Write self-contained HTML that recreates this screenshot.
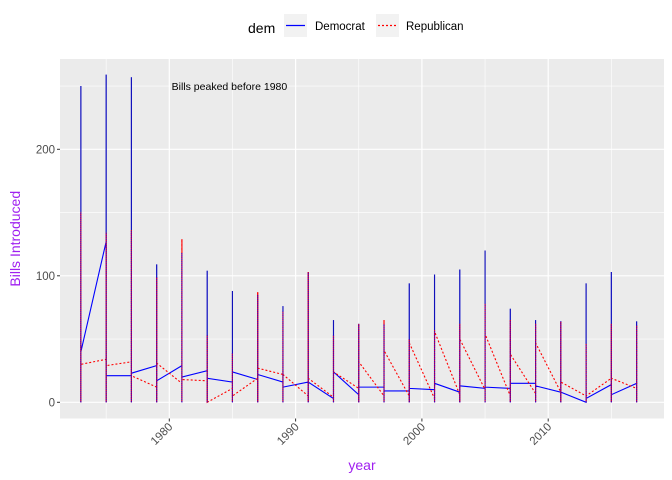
<!DOCTYPE html>
<html><head><meta charset="utf-8"><style>
body{margin:0;background:#fff}
svg{display:block;font-family:"Liberation Sans",Arial,sans-serif}
</style></head><body>
<svg id="c" width="672" height="480"></svg>
<script>
const years=[1973,1975,1977,1979,1981,1983,1985,1987,1989,1991,1993,1995,1997,1999,2001,2003,2005,2007,2009,2011,2013,2015,2017];
const demMax=[250,259,257,109,118,104,88,85,76,103,65,62,62,94,101,105,120,74,65,64,94,103,64];
const demIn=[40,127,21,29,29,25,16,18,16,16,3,6,12,9,10,8,11,11,15,8,0,14,15];
const demOut=[40,21,23,17,20,19,24,22,12,16,24,12,9,11,15,13,12,15,13,8,3,6,15];
const repMax=[150,134,136,99,129,53,39,87,72,103,53,62,65,50,57,62,78,65,62,64,46,62,61];
const repIn=[30,34,32,12,15,17,11,19,22,5,4,11,5,5,3,6,10,5,7,8,5,19,11];
const repOut=[30,29,21,31,18,0,5,27,22,19,24,32,41,47,56,50,54,38,47,16,5,19,11];
const xTicks=[1980,1990,2000,2010];
const yTicks=[0,100,200];

const NS="http://www.w3.org/2000/svg";
const svg=document.getElementById('c');
const L=60,R=664,T=59,B=418.5;
const xs=v=>169.3+(v-1980)*12.63;
const ys=v=>402.3-v*1.265;
function mk(tag,attrs,parent){const e=document.createElementNS(NS,tag);for(const k in attrs)e.setAttribute(k,attrs[k]);(parent||svg).appendChild(e);return e;}

const panel=mk('rect',{x:L,y:T,width:R-L,height:B-T,fill:'#ebebeb'});


const grid=mk('g',{});


[50,150,250].forEach(v=>mk('line',{x1:L,x2:R,y1:ys(v),y2:ys(v),stroke:'#fff','stroke-width':0.6},grid));
[1975,1985,1995,2005,2015].forEach(v=>mk('line',{x1:xs(v),x2:xs(v),y1:T,y2:B,stroke:'#fff','stroke-width':0.6},grid));
yTicks.forEach(v=>mk('line',{x1:L,x2:R,y1:ys(v),y2:ys(v),stroke:'#fff','stroke-width':1.2},grid));
xTicks.forEach(v=>mk('line',{x1:xs(v),x2:xs(v),y1:T,y2:B,stroke:'#fff','stroke-width':1.2},grid));

function series(mx,vin,vout,color,dash,name){
  const g=mk('g',{});
  
  
  let d='';
  years.forEach((y,i)=>{
    const x=xs(y);
    d+=(i?'L':'M')+x+','+ys(vin[i])+'L'+x+','+ys(0)+'L'+x+','+ys(mx[i])+'L'+x+','+ys(vout[i]);
  });
  const p=mk('path',{d:d,fill:'none',stroke:color,'stroke-width':1.1,'stroke-dasharray':dash||'none'},g);
  
  
}
series(demMax,demIn,demOut,'#0000ff',null,'democrat-series');
series(repMax,repIn,repOut,'#ff0000','2,2','republican-series');
const rv=mk('g',{});


years.forEach((y,i)=>{
  const x=xs(y);
  mk('line',{x1:x,x2:x,y1:ys(0),y2:ys(repMax[i]),stroke:'#ff0000','stroke-width':1.1},rv);
  // alternating blue/red overlap reads dark in the reference
  mk('line',{x1:x,x2:x,y1:ys(0),y2:ys(Math.min(demMax[i],repMax[i])),stroke:'#0000ff','stroke-width':1.1,'stroke-dasharray':'1,1'},rv);
  if(demMax[i]>repMax[i]) mk('line',{x1:x,x2:x,y1:ys(repMax[i]),y2:ys(demMax[i]),stroke:'#1a1a8a','stroke-width':1.1,'stroke-opacity':0.6},rv);
});

const ann=mk('text',{x:xs(1985)-3,y:90,'text-anchor':'middle','font-size':10.5,fill:'#000'});
ann.textContent='Bills peaked before 1980';



const ax=mk('g',{});


yTicks.forEach(v=>{
  mk('line',{x1:L-3,x2:L,y1:ys(v),y2:ys(v),stroke:'#333','stroke-width':1},ax);
  const t=mk('text',{x:L-5,y:ys(v)+4,'text-anchor':'end','font-size':11.5,fill:'#4d4d4d'},ax);
  t.textContent=v;
});
const bx=mk('g',{});


xTicks.forEach(v=>{
  const x=xs(v);
  mk('line',{x1:x,x2:x,y1:B,y2:B+3,stroke:'#333','stroke-width':1},bx);
  const t=mk('text',{x:x+4,y:B+9,'text-anchor':'end','font-size':11.5,fill:'#4d4d4d',transform:`rotate(-45 ${x+4} ${B+9})`},bx);
  t.textContent=v;
});
const xt=mk('text',{x:(L+R)/2,y:470,'text-anchor':'middle','font-size':14,fill:'#a020f0'});
xt.textContent='year';


const yt=mk('text',{x:20,y:(T+B)/2,'text-anchor':'middle','font-size':14,fill:'#a020f0',transform:`rotate(-90 20 ${(T+B)/2})`});
yt.textContent='Bills Introduced';



const lg=mk('g',{});


const lt=mk('text',{x:248,y:33,'font-size':14,fill:'#000'},lg);lt.textContent='dem';
const e1=mk('g',{},lg);


mk('rect',{x:284,y:14,width:23,height:23,fill:'#f2f2f2'},e1);
mk('line',{x1:286,x2:305,y1:25.5,y2:25.5,stroke:'#0000ff','stroke-width':1.2},e1);
const t1=mk('text',{x:315,y:30,'font-size':11.5,fill:'#000'},e1);t1.textContent='Democrat';
const e2=mk('g',{},lg);


mk('rect',{x:376,y:14,width:23,height:23,fill:'#f2f2f2'},e2);
mk('line',{x1:378,x2:397,y1:25.5,y2:25.5,stroke:'#ff0000','stroke-width':1.2,'stroke-dasharray':'2,2'},e2);
const t2=mk('text',{x:406,y:30,'font-size':11.5,fill:'#000'},e2);t2.textContent='Republican';
</script>
</body></html>
